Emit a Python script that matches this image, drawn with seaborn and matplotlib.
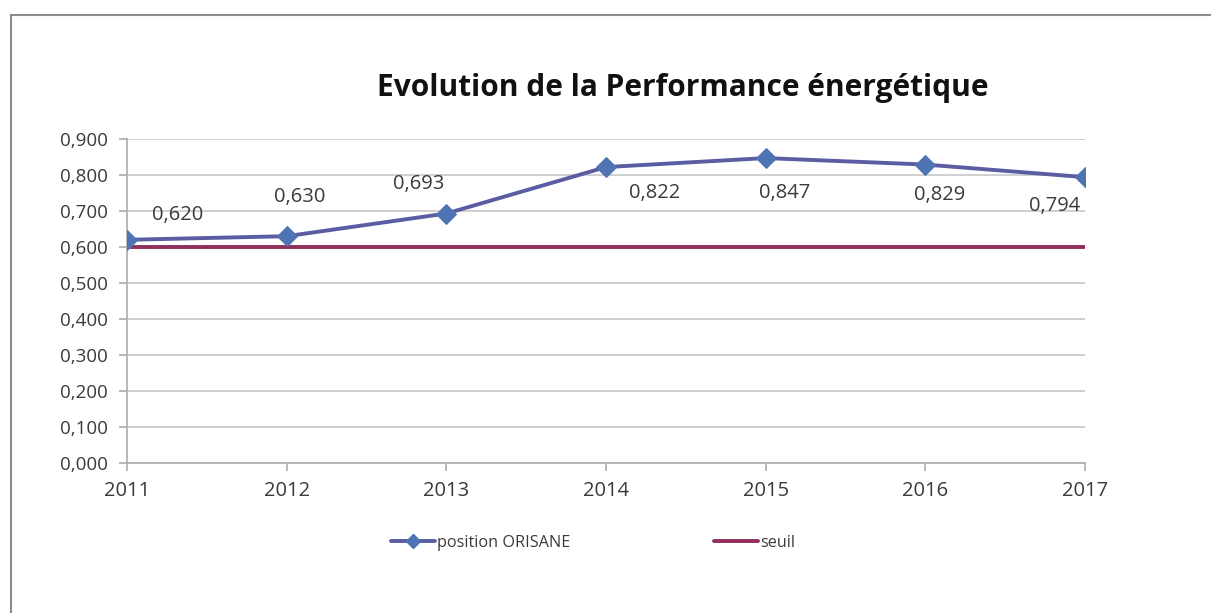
import matplotlib
matplotlib.use("Agg")
import matplotlib.pyplot as plt
import seaborn as sns
import pandas as pd
from matplotlib.lines import Line2D

years = ["2011", "2012", "2013", "2014", "2015", "2016", "2017"]
position = [0.620, 0.630, 0.693, 0.822, 0.847, 0.829, 0.794]
seuil = [0.600, 0.600, 0.600, 0.600, 0.600, 0.600, 0.600]
yticks = [0.0, 0.1, 0.2, 0.3, 0.4, 0.5, 0.6, 0.7, 0.8, 0.9]
title = "Evolution de la Performance énergétique"
series_names = ["position ORISANE", "seuil"]
label_offsets = [(51, 25), (13, 39), (-28, 30), (49, -26), (19, -35), (14, -30), (-30, -29)]

sns.set_theme(style="white")
plt.rcParams['font.family'] = ['Open Sans', 'DejaVu Sans']

df = pd.DataFrame({"x": range(len(years)), "position": position, "seuil": seuil})

fig = plt.figure(figsize=(12.11, 6.13), dpi=100)
ax = fig.add_axes([127/1211, 1 - 463/613, (1085-127)/1211, (463-139)/613])

line_col = "#5A5DA2"
marker_col = "#4F74B3"
seuil_col = "#922E5C"
text_col = "#3A3A3A"

sns.lineplot(data=df, x="x", y="seuil", ax=ax, color=seuil_col, linewidth=2.8, zorder=3)
sns.lineplot(data=df, x="x", y="position", ax=ax, color=line_col, linewidth=2.8,
             marker="D", markersize=10, markerfacecolor=marker_col,
             markeredgecolor=marker_col, zorder=4)

for i, v in enumerate(position):
    dx, dy = label_offsets[i]
    ax.annotate(f"{v:.3f}".replace(".", ","), (i, v), xytext=(dx, dy),
                textcoords="offset pixels", ha="center", va="center",
                fontsize=14.5, color=text_col)

ax.set_xlim(0, len(years) - 1)
ax.set_ylim(0, 0.9)
ax.set_xticks(range(len(years)))
ax.set_xticklabels(years)
ax.set_yticks(yticks)
ax.set_yticklabels([f"{t:.3f}".replace(".", ",") for t in yticks])
ax.set_xlabel("")
ax.set_ylabel("")
ax.grid(axis="y", color="#C8C8C8", linewidth=1.2)
ax.set_axisbelow(True)
for s in ["top", "right"]:
    ax.spines[s].set_visible(False)
ax.spines["left"].set_color("#B0B0B0")
ax.spines["bottom"].set_color("#B0B0B0")
ax.tick_params(axis="both", which="both", length=6, color="#B0B0B0",
               labelcolor=text_col, direction="out", bottom=True, left=True)
ax.tick_params(axis="x", pad=7, labelsize=14.5)
ax.tick_params(axis="y", pad=8, labelsize=13.5)

fig.text(683/1211, 1 - 88/613, title, ha="center", va="center",
         fontsize=21.5, fontweight="bold", color="#111111")

handles = [Line2D([], [], color=line_col, linewidth=2.8, marker="D", markersize=7,
                  markerfacecolor=marker_col, markeredgecolor=marker_col),
           Line2D([], [], color=seuil_col, linewidth=2.8)]
fig.legend(handles, series_names, loc="center", bbox_to_anchor=(593/1211, 1 - 543/613),
           ncol=2, frameon=False, fontsize=11.7, handlelength=2.7, handletextpad=0.15,
           columnspacing=8.8, labelcolor=text_col)

fig.add_artist(Line2D([11/1211, 1.0], [1 - 15/613, 1 - 15/613], color="#8C8C8C",
                      linewidth=1.5, transform=fig.transFigure))
fig.add_artist(Line2D([11/1211, 11/1211], [0, 1 - 15/613], color="#8C8C8C",
                      linewidth=1.5, transform=fig.transFigure))

fig.savefig("out.png", dpi=100)
